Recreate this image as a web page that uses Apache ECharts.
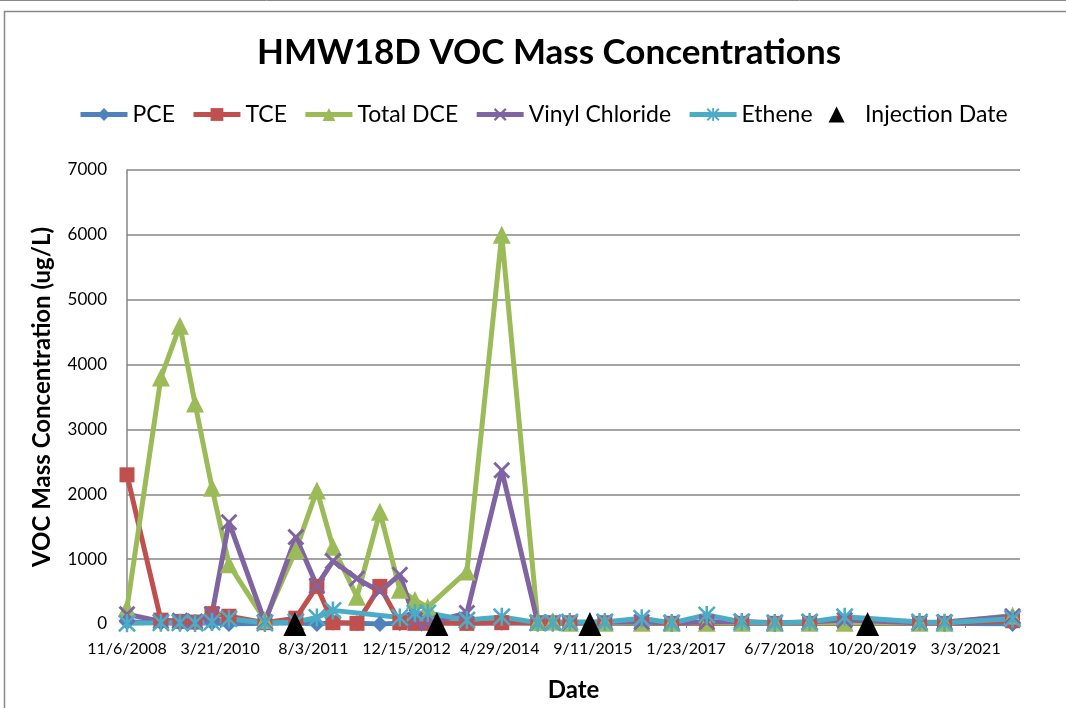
<!DOCTYPE html>
<html>
<head>
<meta charset="utf-8">
<script src="https://cdn.jsdelivr.net/npm/echarts@6/dist/echarts.min.js"></script>
<style>
html,body{margin:0;padding:0;background:#fff;}
#chart{width:1066px;height:708px;}
</style>
</head>
<body>
<div id="chart"></div>
<script>
// ---- data ----
const baseDate = '2008-11-06';
const sampleDates = ['2008-11-06','2009-05-07','2009-08-17','2009-11-06','2010-02-05','2010-05-07','2010-11-16','2011-05-01','2011-08-22','2011-11-16','2012-03-24','2012-07-25','2012-11-09','2013-01-29','2013-04-08','2013-11-04','2014-05-10','2014-11-19','2015-02-08','2015-05-10','2015-11-14','2016-05-30','2016-11-07','2017-05-14','2017-11-18','2018-05-14','2018-11-17','2019-05-24','2020-06-29','2020-11-10','2021-11-10'];
const pce      = [30,20,10,10,20,0,10,20,0,20,10,0,10,20,30,10,20,10,10,10,10,10,10,10,10,10,10,10,10,10,0];
const tce      = [2300,60,40,30,160,120,20,90,580,20,10,580,20,10,10,10,20,20,20,20,20,10,10,10,10,10,10,10,10,10,50];
const totalDce = [250,3800,4600,3400,2100,920,60,1140,2060,1190,420,1730,530,370,260,810,6000,30,40,20,20,20,20,20,20,20,20,20,20,20,130];
const vinylCl  = [150,40,50,40,150,1570,30,1340,590,970,700,500,760,60,10,170,2370,20,20,20,30,30,20,30,40,20,30,60,20,30,120];
const ethene   = [10,20,20,15,30,80,15,30,100,210,null,null,100,170,170,60,110,20,20,30,30,90,15,140,30,15,30,110,30,20,80];
const injectionDates = ['2011-04-26','2013-05-27','2015-08-26','2019-09-24'];
const axisEndDate = '2021-12-20';
const tickDays   = [0,500,1000,1500,2000,2500,3000,3500,4000,4500];
const tickLabels = ['11/6/2008','3/21/2010','8/3/2011','12/15/2012','4/29/2014','9/11/2015','1/23/2017','6/7/2018','10/20/2019','3/3/2021'];

// ---- helpers ----
function dayOf(d){ return Math.round((Date.parse(d) - Date.parse(baseDate)) / 86400000); }
function pairs(vals){ return sampleDates.map((d,i)=>[dayOf(d), vals[i]]); }

const FONT = 'Lato';
const starPath = 'path://M4.3,0 L5.7,0 L5.7,10 L4.3,10 Z M0,1 L1,0 L10,9 L9,10 Z M9,0 L10,1 L1,10 L0,9 Z';
const xPath = 'path://M0,1.2 L1.2,0 L10,8.8 L8.8,10 Z M8.8,0 L10,1.2 L1.2,10 L0,8.8 Z';
const triPath = 'path://M5,0 L10,10 L0,10 Z';

function lineSeries(name, vals, color, symbol, size){
  return {
    name, type:'line', data: pairs(vals), connectNulls:true,
    symbol, symbolSize:size, showSymbol:true, symbolKeepAspect:true,
    lineStyle:{color, width:5}, itemStyle:{color, borderWidth:0, opacity:1},
    emphasis:{disabled:true}, animation:false, z:2
  };
}

const chart = echarts.init(document.getElementById('chart'), null, {renderer:'canvas'});
chart.setOption({
  backgroundColor:'#ffffff',
  animation:false,
  title:{
    text:'HMW18D VOC Mass Concentrations',
    left:544, textAlign:'center', top:30,
    textStyle:{fontFamily:FONT, fontWeight:'bold', fontSize:35, color:'#000'}
  },
  legend:{
    left:73, top:98, itemWidth:47, itemHeight:16, itemGap:16,
    lineStyle:{width:5},
    textStyle:{fontFamily:FONT, fontSize:23, color:'#000'},
    data:['PCE','TCE','Total DCE','Vinyl Chloride','Ethene','Injection Date']
  },
  grid:{left:127, right:46, top:170, bottom:84, containLabel:false},
  xAxis:{
    type:'value', min:0, max:dayOf(axisEndDate),
    name:'Date', nameLocation:'middle', nameGap:54,
    nameTextStyle:{fontFamily:FONT, fontWeight:'bold', fontSize:24, color:'#000'},
    axisLine:{show:true, lineStyle:{color:'#868686', width:1.5}},
    axisTick:{show:true, customValues:tickDays, length:4, lineStyle:{color:'#868686'}},
    splitLine:{show:false},
    axisLabel:{customValues:tickDays, margin:17, fontFamily:FONT, fontSize:16, color:'#000',
      formatter:function(v){ const i = tickDays.indexOf(v); return i>=0 ? tickLabels[i] : ''; }}
  },
  yAxis:{
    type:'value', min:0, max:7000, interval:1000,
    name:'VOC Mass Concentration (ug/L)', nameLocation:'middle', nameGap:73,
    nameTextStyle:{fontFamily:FONT, fontWeight:'bold', fontSize:24, color:'#000'},
    axisLine:{show:true, lineStyle:{color:'#868686', width:1.5}},
    axisTick:{show:false},
    splitLine:{show:true, lineStyle:{color:'#868686', width:1.5}},
    axisLabel:{margin:20, fontFamily:FONT, fontSize:17, color:'#000',
      formatter:function(v){ return String(v); }}
  },
  graphic:[
    {type:'line', shape:{x1:0,y1:0.5,x2:1066,y2:0.5}, style:{stroke:'#888', lineWidth:1}},
    {type:'rect', shape:{x:4.5,y:11.5,width:1200,height:800}, style:{fill:'none', stroke:'#888', lineWidth:1.5}, z:-1}
  ],
  series:[
    lineSeries('PCE', pce, '#4F81BD', 'diamond', 16),
    lineSeries('TCE', tce, '#C0504D', 'rect', 15),
    lineSeries('Total DCE', totalDce, '#9BBB59', 'triangle', 18),
    lineSeries('Vinyl Chloride', vinylCl, '#8064A2', xPath, 17),
    lineSeries('Ethene', ethene, '#4BACC6', starPath, 18),
    {
      name:'Injection Date', type:'scatter',
      data: injectionDates.map(d=>[dayOf(d), 0]),
      symbol:triPath, symbolKeepAspect:true, symbolSize:[23,24],
      itemStyle:{color:'#000', opacity:1}, emphasis:{disabled:true}, z:3
    }
  ]
});
</script>
</body>
</html>
